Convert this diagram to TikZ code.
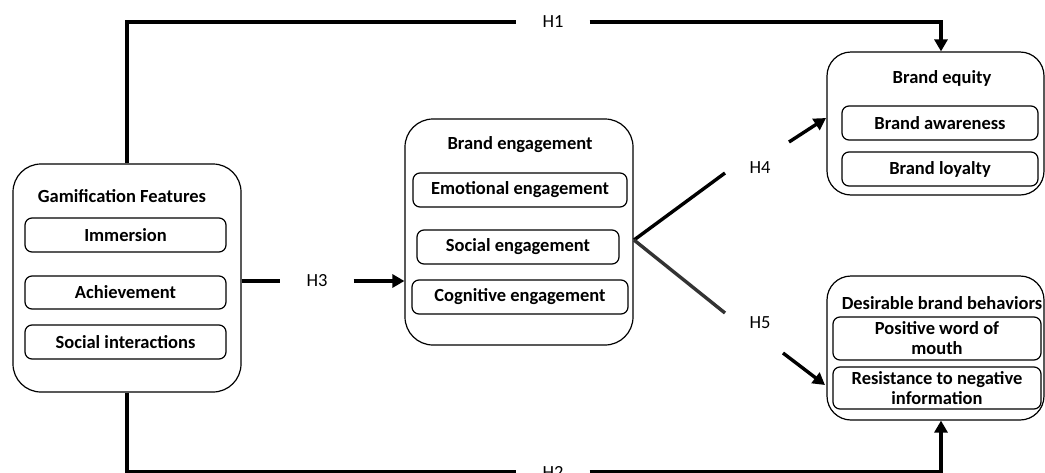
\documentclass[tikz,border=0pt]{standalone}
\usepackage{fontspec}
\setmainfont{Carlito}
\usetikzlibrary{arrows.meta}
\tikzset{
  outerbox/.style={draw, line width=1.2pt, rounded corners=28pt, inner sep=0pt},
  innerbox/.style={draw, line width=1.2pt, rounded corners=7pt, inner sep=0pt, align=center, font=\fontsize{18.5}{20}\selectfont\bfseries},
  titletext/.style={inner sep=0pt, font=\fontsize{18.5}{20}\selectfont\bfseries},
  hlabel/.style={inner sep=0pt, minimum width=73pt, minimum height=20pt, font=\fontsize{18.5}{20}\selectfont},
  conn/.style={line width=3.4pt},
  arr/.style={line width=3.4pt, -{Triangle[length=12pt,width=13pt]}},
}
\begin{document}
\begin{tikzpicture}[x=1pt,y=-1pt]
\useasboundingbox (0,0) rectangle (1045,472);

% outer boxes
\node[outerbox, minimum width=228pt, minimum height=228pt] (gam) at (127,278) {};
\node[outerbox, minimum width=228pt, minimum height=226pt] (beng) at (519,232) {};
\node[outerbox, rounded corners=24pt, minimum width=217pt, minimum height=143pt] (beq) at (935.5,123.5) {};
\node[outerbox, rounded corners=24pt, minimum width=217pt, minimum height=144pt] (dbb) at (935.5,348) {};

% titles
\node[titletext] (gamt) at (122,196) {Gamification Features};
\node[titletext] (bengt) at (520,145) {Brand engagement};
\node[titletext] (beqt) at (942,78) {Brand equity};
\node[titletext] (dbbt) at (942,303) {Desirable brand behaviors};

% inner boxes
\node[innerbox, minimum width=201pt, minimum height=34pt] (imm) at (125.5,235) {Immersion};
\node[innerbox, minimum width=201pt, minimum height=33pt] (ach) at (125.5,292.5) {Achievement};
\node[innerbox, minimum width=201pt, minimum height=34pt] (soc) at (125.5,342) {Social interactions};

\node[innerbox, minimum width=214pt, minimum height=34pt] (emo) at (520,190) {Emotional engagement};
\node[innerbox, minimum width=202pt, minimum height=34pt] (soe) at (518,247) {Social engagement};
\node[innerbox, minimum width=216pt, minimum height=34pt] (cog) at (520,297) {Cognitive engagement};

\node[innerbox, minimum width=196pt, minimum height=34pt] (baw) at (940,123) {Brand awareness};
\node[innerbox, minimum width=196pt, minimum height=34pt] (blo) at (940,169) {Brand loyalty};

\node[innerbox, minimum width=208pt, minimum height=43pt] (pwm) at (937,338.5) {Positive word of\\mouth};
\node[innerbox, minimum width=208pt, minimum height=42pt] (rni) at (937,388) {Resistance to negative\\information};

% hypothesis labels
\node[hlabel] (h1) at (553,22) {H1};
\node[hlabel] (h2) at (553,472) {H2};
\node[hlabel] (h3) at (317,281) {H3};
\node[inner sep=0pt, font=\fontsize{18.5}{20}\selectfont] (h4) at (760,168) {H4};
\node[inner sep=0pt, font=\fontsize{18.5}{20}\selectfont] (h5) at (760,323) {H5};

% helper coordinates
\coordinate (xr) at (941,0);
\coordinate (br) at (634,240);
\coordinate (h4a) at (725,173);
\coordinate (h4b) at (789,142);
\coordinate (h4c) at (826,118);
\coordinate (h5a) at (725,313);
\coordinate (h5b) at (783,353);
\coordinate (h5c) at (825,385);

% connectors
\draw[conn] (gam.north) |- (h1.west);
\draw[arr] (h1.east) -| (beq.north -| xr);
\draw[conn] (gam.south) |- (h2.west);
\draw[arr] (h2.east) -| (dbb.south -| xr);
\draw[conn] (gam.east |- h3) -- (h3.west);
\draw[arr] (h3.east) -- (beng.west |- h3);
\draw[conn] (br) -- (h4a);
\draw[arr] (h4b) -- (h4c);
\draw[conn, draw=black!80] (br) -- (h5a);
\draw[arr] (h5b) -- (h5c);
\end{tikzpicture}
\end{document}
